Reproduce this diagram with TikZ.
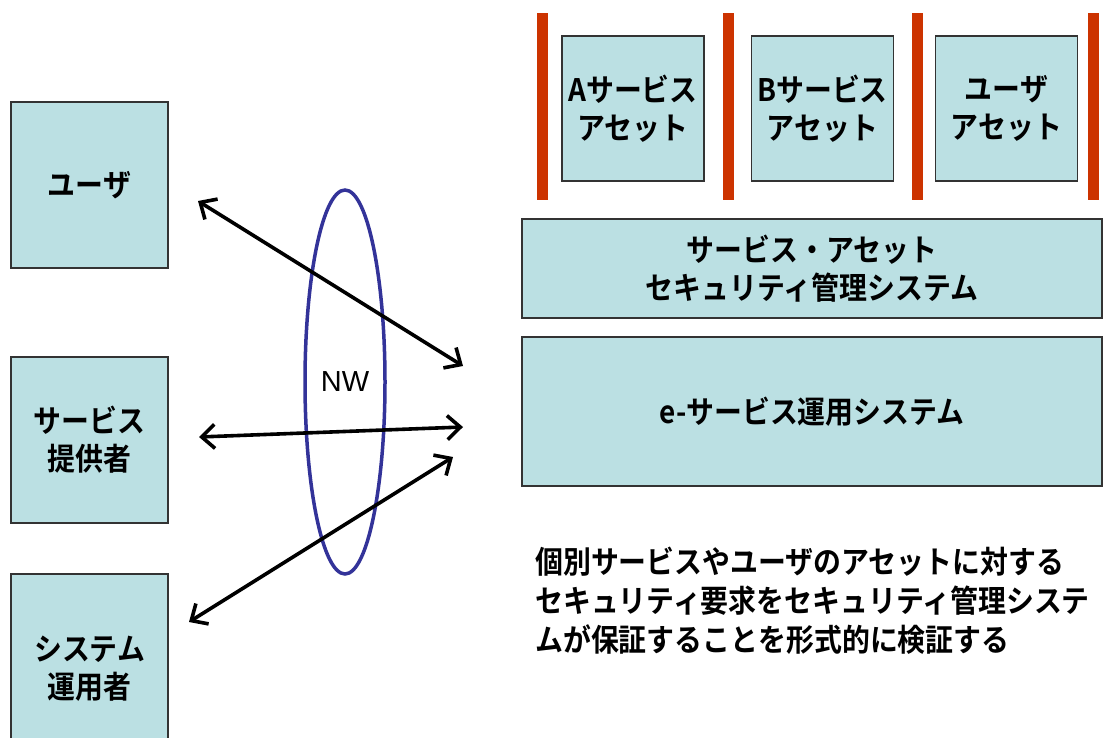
\documentclass[tikz,border=0pt]{standalone}
\usepackage{fontspec}
\setmainfont{Liberation Sans}
\newfontfamily\jpfont{Noto Sans CJK JP Bold}[FakeStretch=0.9]
\usetikzlibrary{arrows.meta,shapes.geometric}
\definecolor{boxblue}{HTML}{BBE0E3}
\definecolor{wallred}{HTML}{CC3300}
\definecolor{ringblue}{HTML}{333399}
\tikzset{
  panel/.style={draw=black!80, line width=1.3pt, fill=boxblue, align=center, inner sep=0pt,
    font=\jpfont\fontsize{31}{38}\selectfont},
  actor/.style={panel, minimum width=157pt, minimum height=166pt},
  asset/.style={panel, minimum width=142pt, minimum height=145pt},
  layer/.style={panel, minimum width=580pt},
  ring/.style={ellipse, draw=ringblue, line width=3.5pt, minimum width=80pt, minimum height=384pt,
    inner sep=0pt, font=\fontsize{29}{31}\selectfont},
  wall/.style={fill=wallred},
  link/.style={<->, line width=3.6pt}
}
\begin{document}
\begin{tikzpicture}[x=1pt,y=-1pt,>={Straight Barb[length=13pt,width=24pt]}]
\clip (0,0) rectangle (1103,738);
% users of the e-service
\node[actor] (usr) at (89.5,185) {ユーザ};
\node[actor] (prov) at (89.5,440) {サービス\\提供者};
\node[actor, minimum height=190pt] (oper) at (89.5,669) {システム\\運用者};
% network
\node[ring] (nw) at (345,382) {NW};
% assets and walls
\foreach \x in {542.5,728,917.5,1093.5}
  \fill[wall] (\x-5.5,13) rectangle (\x+5.5,200);
\node[asset] (svcA) at (633,108.5) {Aサービス\\アセット};
\node[asset] (svcB) at (822.5,108.5) {Bサービス\\アセット};
\node[asset] (usrA) at (1006.5,108.5) {ユーザ\\アセット};
% system layers
\node[layer, minimum height=99pt] (secmgr) at (812,268.5) {サービス・アセット\\セキュリティ管理システム};
\node[layer, minimum height=149pt] (esys) at (812,411.5) {e-サービス運用システム};
% connections
\coordinate (usrend) at (198,201);
\coordinate (provend) at (199,437);
\coordinate (operend) at (189,622);
\coordinate (esysin1) at (463,366);
\coordinate (esysin2) at (463,427);
\coordinate (esysin3) at (453,457);
\draw[link] (usrend) -- (esysin1);
\draw[link] (provend) -- (esysin2);
\draw[link] (operend) -- (esysin3);
% goal
\node[anchor=west, align=left, inner sep=0pt, font=\jpfont\fontsize{31}{39}\selectfont] (goal) at (535,601)
  {個別サービスやユーザのアセットに対する\\セキュリティ要求をセキュリティ管理システ\\ムが保証することを形式的に検証する};
\end{tikzpicture}
\end{document}
